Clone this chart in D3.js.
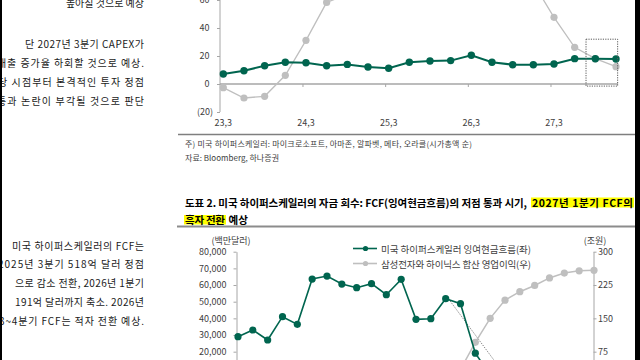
<!DOCTYPE html>
<html><head><meta charset="utf-8">
<script src="https://cdn.jsdelivr.net/npm/d3@7"></script>
<style>html,body{margin:0;padding:0;background:#fff;overflow:hidden}svg{display:block}</style>
</head><body><svg id="c" width="640" height="360"></svg>
<script>
// ---------- DATA ----------
// Chart 1 (top, partly scrolled out of view): YoY growth (%)
const topQuarters = ["23,3","23,6","23,9","23,12","24,3","24,6","24,9","24,12","25,3","25,6","25,9","25,12","26,3","26,6","26,9","26,12","27,3","27,6","27,9","27,12"];
const topTickLabels = ["23,3","24,3","25,3","26,3","27,3"];
const capexGrowth   = [-2.6,-10,-8.8,6.2,31.2,58.3,64,70,66,68,72,75,74,70,68,72,47.6,26.2,18.1,12.4];
const revenueGrowth = [7.1,9.5,13,15.5,15.2,13,14,12.1,11.2,15.5,16.4,16.7,20.5,15.5,13.8,13.8,14.3,18.1,18.0,17.9];
const topYTicks = [-20,0,20,40,60,80,100];

// Chart 2: FCF (USD mn, left) vs Samsung+Hynix operating profit (KRW tn, right)
const quarters2 = ["22,3","22,6","22,9","22,12","23,3","23,6","23,9","23,12","24,3","24,6","24,9","24,12","25,3","25,6","25,9","25,12","26,3","26,6","26,9","26,12","27,3","27,6","27,9","27,12","28,3"];
const fcf = [29000,33000,27000,41000,36400,63600,65400,60600,58400,60800,54200,63400,39400,39800,51800,48800,19100,6000,-6000,-9000,2000,5000,8000,10000,null];
const opProfit = [17,18.3,12.5,2.6,-2.8,-2.2,0.6,3.2,9.5,15.9,16.2,14.6,14.1,13.9,23.6,35,96,150,191,210,224,241,252,257,258];
const leftTicks = [0,10000,20000,30000,40000,50000,60000,70000,80000];
const rightTicks = [0,75,150,225,300];
const legendLabels = ["미국 하이퍼스케일러 잉여현금흐름(좌)","삼성전자와 하이닉스 합산 영업이익(우)"];
const trendFrom = [14.2, 51600], trendTo = [18.5, 0];
const boxIdx = [17.55, 19.08], boxVal = [-1.5, 32];

// Text blocks
const bodyTop = ["높아질 것으로 예상","단 2027년 3분기 CAPEX가","매출 증가율 하회할 것으로 예상.","당 시점부터 본격적인 투자 정점","통과 논란이 부각될 것으로 판단"];
const bodyBottom = ["미국 하이퍼스케일러의 FCF는","2025년 3분기 518억 달러 정점","으로 감소 전환, 2026년 1분기","191억 달러까지 축소. 2026년","3~4분기 FCF는 적자 전환 예상."];
const noteText = "주) 미국 하이퍼스케일러: 마이크로소프트, 아마존, 알파벳, 메타, 오라클(시가총액 순)";
const sourceText = "자료: Bloomberg, 하나증권";
const titleA = "도표 2. 미국 하이퍼스케일러의 자금 회수: FCF(잉여현금흐름)의 저점 통과 시기,";
const titleB = "2027년 1분기 FCF의";
const title2A = "흑자 전환";
const title2B = "예상";
const leftUnit = "(백만달러)", rightUnit = "(조원)";

// ---------- LAYOUT ----------
const FONT = "'Noto Sans CJK KR','Noto Sans',sans-serif";
const GREEN = "#00654f", GRAY = "#bfbfbf", AX = "#a6a6a6", TXT = "#404040";
const svg = d3.select("#c");
svg.append("rect").attr("width",640).attr("height",360).attr("fill","#fff");

// body text column (justified; start positions / baselines)
const topLayout = [{x0:null,y:2},{x0:25,y:43.5},{x0:-3,y:62},{x0:-2,y:81},{x0:-3,y:100}];
const botLayout = [{x0:12,y:245},{x0:-2,y:263.5},{x0:15,y:282},{x0:15,y:301.5},{x0:-1,y:320}];
function bodyLines(texts, layout){
  texts.forEach((t,i)=>{
    const L = layout[i];
    const el = svg.append("text").text(t).attr("y",L.y).attr("dominant-baseline","central")
      .attr("font-family",FONT).attr("font-size",10).attr("fill","#1a1a1a");
    if (L.x0===null) el.attr("x",144).attr("text-anchor","end");
    else el.attr("x",L.x0).attr("textLength",144-L.x0).attr("lengthAdjust","spacing");
  });
}
bodyLines(bodyTop, topLayout);
bodyLines(bodyBottom, botLayout);

// ---------- CHART 1 ----------
const x1 = d3.scaleLinear().domain([0, topQuarters.length-1]).range([223.3, 616]);
const y1 = d3.scaleLinear().domain([-20, 60]).range([112, 0]);
const fmt1 = v => v < 0 ? "(" + Math.abs(v) + ")" : String(v);

const yAx1 = svg.append("g").attr("transform","translate(220,0)")
  .call(d3.axisLeft(y1).tickValues(topYTicks).tickSize(3).tickSizeOuter(0).tickFormat(fmt1).tickPadding(4));
yAx1.select(".domain").attr("d", `M0,${y1(100)}V${y1(-20)}`).attr("stroke",AX);
yAx1.selectAll(".tick line").attr("stroke",AX);
yAx1.selectAll(".tick text").attr("font-family",FONT).attr("font-size",9).attr("fill",TXT)
  .attr("dx", d => d < 0 ? 0 : -3.5);

// zero axis line with ticks
svg.append("line").attr("x1",220).attr("x2",x1(19.1)).attr("y1",y1(0)).attr("y2",y1(0))
  .attr("stroke",AX).attr("stroke-width",1.5);
const labIdx = topTickLabels.map(l => topQuarters.indexOf(l));
svg.selectAll(".t1tick").data(labIdx.slice(1)).enter().append("line")
  .attr("x1",d=>x1(d)-3).attr("x2",d=>x1(d)-3).attr("y1",y1(0)).attr("y2",y1(0)+3).attr("stroke",AX);
svg.selectAll(".t1lab").data(labIdx).enter().append("text")
  .attr("x",d=>x1(d)).attr("y",122).attr("text-anchor","middle").attr("dominant-baseline","central")
  .attr("font-family",FONT).attr("font-size",9).attr("fill",TXT).text(d=>topQuarters[d]);

const line1 = d3.line().x((d,i)=>x1(i)).y(d=>y1(d));
svg.append("path").attr("d",line1(capexGrowth)).attr("fill","none").attr("stroke",GRAY).attr("stroke-width",1.3);
svg.selectAll(".g1").data(capexGrowth).enter().append("circle")
  .attr("cx",(d,i)=>x1(i)).attr("cy",d=>y1(d)).attr("r",3.6).attr("fill",GRAY);
svg.append("path").attr("d",line1(revenueGrowth)).attr("fill","none").attr("stroke",GREEN).attr("stroke-width",2);
svg.selectAll(".r1").data(revenueGrowth).enter().append("circle")
  .attr("cx",(d,i)=>x1(i)).attr("cy",d=>y1(d)).attr("r",3.7).attr("fill",GREEN);
// dotted highlight box
svg.append("rect").attr("x",x1(boxIdx[0])).attr("y",y1(boxVal[1]))
  .attr("width",x1(boxIdx[1])-x1(boxIdx[0])).attr("height",y1(boxVal[0])-y1(boxVal[1]))
  .attr("fill","none").attr("stroke","#595959").attr("stroke-width",1).attr("stroke-dasharray","1.2,1.2");

// ---------- NOTES / TITLE ----------
svg.append("line").attr("x1",178).attr("x2",636).attr("y1",134.5).attr("y2",134.5).attr("stroke","#7f7f7f").attr("stroke-width",1.5);
svg.append("text").attr("x",185).attr("y",143.5).attr("dominant-baseline","central").attr("font-family",FONT)
  .attr("font-size",8).attr("fill","#404040").attr("textLength",287).attr("lengthAdjust","spacing").text(noteText);
svg.append("text").attr("x",185).attr("y",157).attr("dominant-baseline","central").attr("font-family",FONT)
  .attr("font-size",8).attr("fill","#404040").attr("textLength",94).attr("lengthAdjust","spacing").text(sourceText);

svg.append("rect").attr("x",531).attr("y",197.5).attr("width",103).attr("height",10).attr("fill","#ffff00");
svg.append("rect").attr("x",184).attr("y",215).attr("width",42).attr("height",9.5).attr("fill","#ffff00");
const tStyle = s => s.attr("dominant-baseline","central").attr("font-family",FONT).attr("font-size",10.5)
  .attr("font-weight","bold").attr("fill","#000").attr("lengthAdjust","spacing");
svg.append("text").attr("x",185).attr("y",202).attr("textLength",342).text(titleA).call(tStyle);
svg.append("text").attr("x",532).attr("y",202).attr("textLength",101).text(titleB).call(tStyle);
svg.append("text").attr("x",185).attr("y",219.5).attr("textLength",40).text(title2A).call(tStyle);
svg.append("text").attr("x",228.5).attr("y",219.5).text(title2B).call(tStyle);
svg.append("line").attr("x1",177).attr("x2",636).attr("y1",226.5).attr("y2",226.5).attr("stroke","#8c8c8c").attr("stroke-width",2);

// ---------- CHART 2 ----------
const x2 = d3.scaleLinear().domain([0, quarters2.length-1]).range([238, 594]);
const yL = d3.scaleLinear().domain([0, 80000]).range([385, 251.7]);
const yR = d3.scaleLinear().domain([0, 300]).range([385, 251.7]);

const axL = svg.append("g").attr("transform","translate(236.5,0)")
  .call(d3.axisLeft(yL).tickValues(leftTicks).tickSize(3).tickSizeOuter(0).tickPadding(7).tickFormat(d3.format(",")));
const axR = svg.append("g").attr("transform","translate(593.5,0)")
  .call(d3.axisRight(yR).tickValues(rightTicks).tickSize(3).tickSizeOuter(0).tickPadding(1.5));
[axL,axR].forEach(a=>{
  a.select(".domain").attr("stroke",AX);
  a.selectAll(".tick line").attr("stroke",AX);
  a.selectAll(".tick text").attr("font-family",FONT).attr("font-size",9).attr("fill",TXT);
});
svg.append("text").attr("x",231).attr("y",240).attr("text-anchor","middle").attr("dominant-baseline","central")
  .attr("font-family",FONT).attr("font-size",9).attr("fill",TXT).text(leftUnit);
svg.append("text").attr("x",595).attr("y",240).attr("text-anchor","middle").attr("dominant-baseline","central")
  .attr("font-family",FONT).attr("font-size",9).attr("fill",TXT).text(rightUnit);

// trend annotation (dotted)
svg.append("line").attr("x1",x2(trendFrom[0])).attr("y1",yL(trendFrom[1])).attr("x2",x2(trendTo[0])).attr("y2",yL(trendTo[1]))
  .attr("stroke","#7f7f7f").attr("stroke-width",1).attr("stroke-dasharray","1.3,1.3");

const lineR = d3.line().defined(d=>d!=null).x((d,i)=>x2(i)).y(d=>yR(d));
svg.append("path").attr("d",lineR(opProfit)).attr("fill","none").attr("stroke",GRAY).attr("stroke-width",1.5);
svg.selectAll(".op").data(opProfit).enter().append("circle")
  .attr("cx",(d,i)=>x2(i)).attr("cy",d=>yR(d)).attr("r",3.6).attr("fill",GRAY);
const lineL = d3.line().defined(d=>d!=null).x((d,i)=>x2(i)).y(d=>yL(d));
svg.append("path").attr("d",lineL(fcf)).attr("fill","none").attr("stroke",GREEN).attr("stroke-width",1.6);
svg.selectAll(".fcf").data(fcf.map((d,i)=>[i,d]).filter(p=>p[1]!=null)).enter().append("circle")
  .attr("cx",p=>x2(p[0])).attr("cy",p=>yL(p[1])).attr("r",3.6).attr("fill",GREEN);

// legend
const legColors = [GREEN, GRAY];
legendLabels.forEach((lab,i)=>{
  const y = 248.5 + i*15;
  svg.append("line").attr("x1",353).attr("x2",377).attr("y1",y).attr("y2",y).attr("stroke",legColors[i]).attr("stroke-width",1.6);
  svg.append("circle").attr("cx",365.5).attr("cy",y).attr("r",2.6).attr("fill",legColors[i]);
  svg.append("text").attr("x",381).attr("y",y).attr("dominant-baseline","central").attr("font-family",FONT)
    .attr("font-size",9.5).attr("fill",TXT).attr("textLength",150).attr("lengthAdjust","spacing").text(lab);
});

// page frame (dark margins of screenshot)
svg.append("rect").attr("x",0).attr("y",0).attr("width",2).attr("height",360).attr("fill","#000");
svg.append("rect").attr("x",635).attr("y",0).attr("width",5).attr("height",360).attr("fill","#000");
</script></body></html>
